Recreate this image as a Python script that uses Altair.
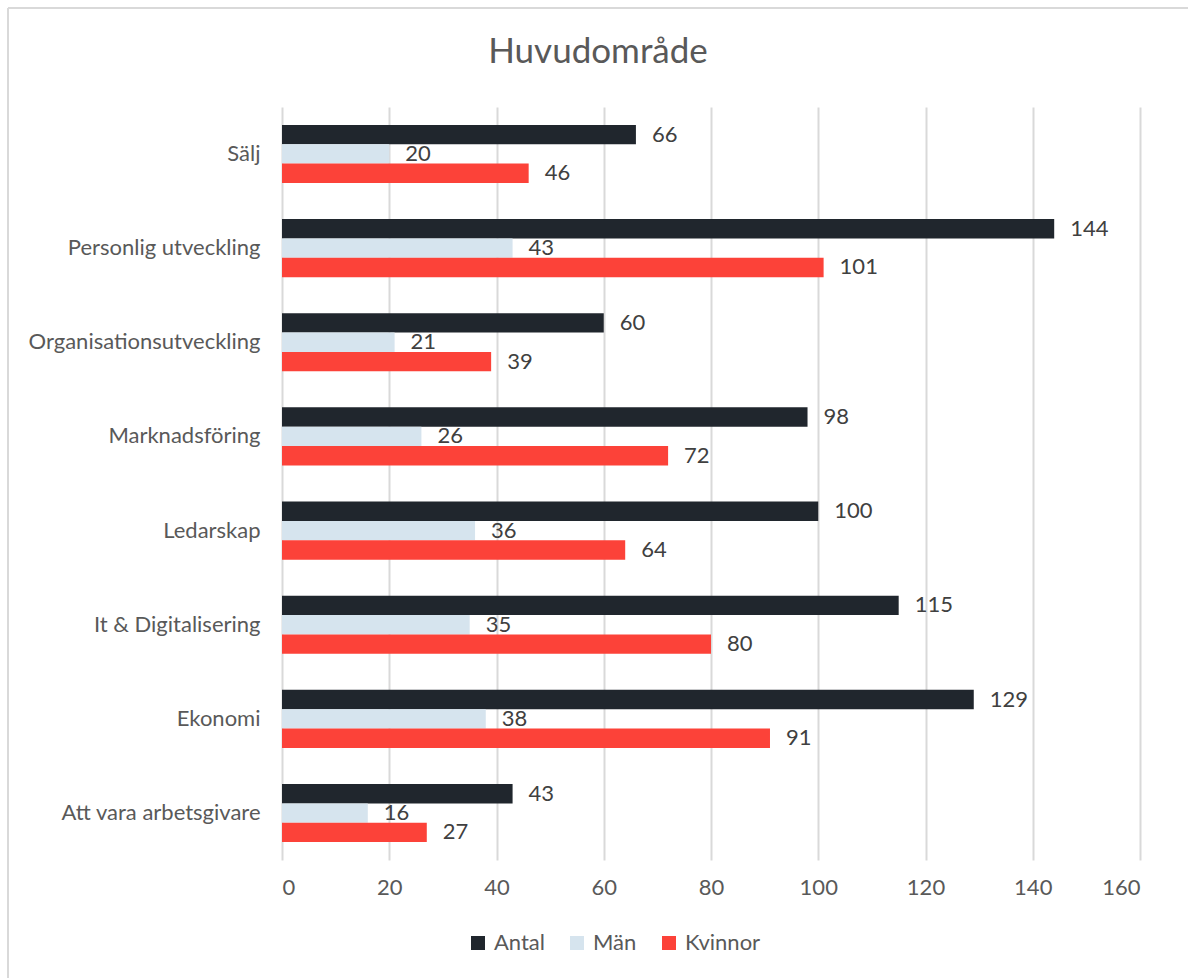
import altair as alt
import pandas as pd

titel = "Huvudområde"
kategorier = ["Sälj", "Personlig utveckling", "Organisationsutveckling", "Marknadsföring",
              "Ledarskap", "It & Digitalisering", "Ekonomi", "Att vara arbetsgivare"]
serier = ["Antal", "Män", "Kvinnor"]
antal = [66, 144, 60, 98, 100, 115, 129, 43]
man = [20, 43, 21, 26, 36, 35, 38, 16]
kvinnor = [46, 101, 39, 72, 64, 80, 91, 27]
farger = ["#20262d", "#d6e4ee", "#fc4239"]
x_ticks = [0, 20, 40, 60, 80, 100, 120, 140, 160]

rows = []
for i, k in enumerate(kategorier):
    for s, vals in zip(serier, [antal, man, kvinnor]):
        rows.append({"Kategori": k, "Serie": s, "Värde": vals[i]})
df = pd.DataFrame(rows)

FONT = "Lato"

y_enc = alt.Y("Kategori:N", sort=kategorier, title=None,
              scale=alt.Scale(paddingInner=0.383, paddingOuter=0.19),
              axis=alt.Axis(labelFontSize=22, labelColor="#595959", labelPadding=22,
                            ticks=False, domain=False, grid=False, labelLimit=400))
yoff = alt.YOffset("Serie:N", sort=serier, scale=alt.Scale(paddingInner=0, paddingOuter=0))
x_enc = alt.X("Värde:Q", title=None,
              scale=alt.Scale(domain=[0, 160], nice=False),
              axis=alt.Axis(values=x_ticks, labelFontSize=22, labelColor="#595959",
                            labelPadding=17, ticks=False, domain=False, grid=True,
                            gridColor="#d9d9d9", gridWidth=2))

base = alt.Chart(df)

bars = base.mark_bar().encode(
    y=y_enc, yOffset=yoff, x=x_enc,
    color=alt.Color("Serie:N", sort=serier,
                    scale=alt.Scale(domain=serier, range=farger),
                    legend=alt.Legend(title=None, orient="none", direction="horizontal",
                                      legendX=185, legendY=825, symbolType="square",
                                      symbolSize=196, symbolStrokeWidth=0,
                                      labelFontSize=22, labelColor="#595959",
                                      labelOffset=5, columnPadding=21, padding=0)),
)

labels = base.mark_text(align="left", baseline="middle", dx=16, fontSize=22,
                        color="#404040", font=FONT).encode(
    y=alt.Y("Kategori:N", sort=kategorier), yOffset=yoff,
    x=alt.X("Värde:Q"), text=alt.Text("Värde:Q"))

frame_data = alt.Data(values=[{"a": 1}])
top_line = alt.Chart(frame_data).mark_rule(color="#d9d9d9", strokeWidth=2).encode(
    x=alt.value(-274), x2=alt.value(930), y=alt.value(-99))
left_line = alt.Chart(frame_data).mark_rule(color="#d9d9d9", strokeWidth=2).encode(
    x=alt.value(-274), y=alt.value(-99), y2=alt.value(900))

title_mark = alt.Chart(alt.Data(values=[{"t": titel}])).mark_text(
    fontSize=35, color="#595959", font=FONT, align="center", baseline="alphabetic"
).encode(x=alt.value(316), y=alt.value(-44), text="t:N")

chart = alt.layer(top_line, left_line, bars, labels, title_mark).properties(
    width=858, height=753,
    autosize=alt.AutoSizeParams(type="none"),
    padding={"left": 282, "top": 107, "right": 48, "bottom": 118},
).configure(font=FONT).configure_view(stroke=None)

chart.save("out.html", embed_options={"renderer": "svg", "actions": False})
